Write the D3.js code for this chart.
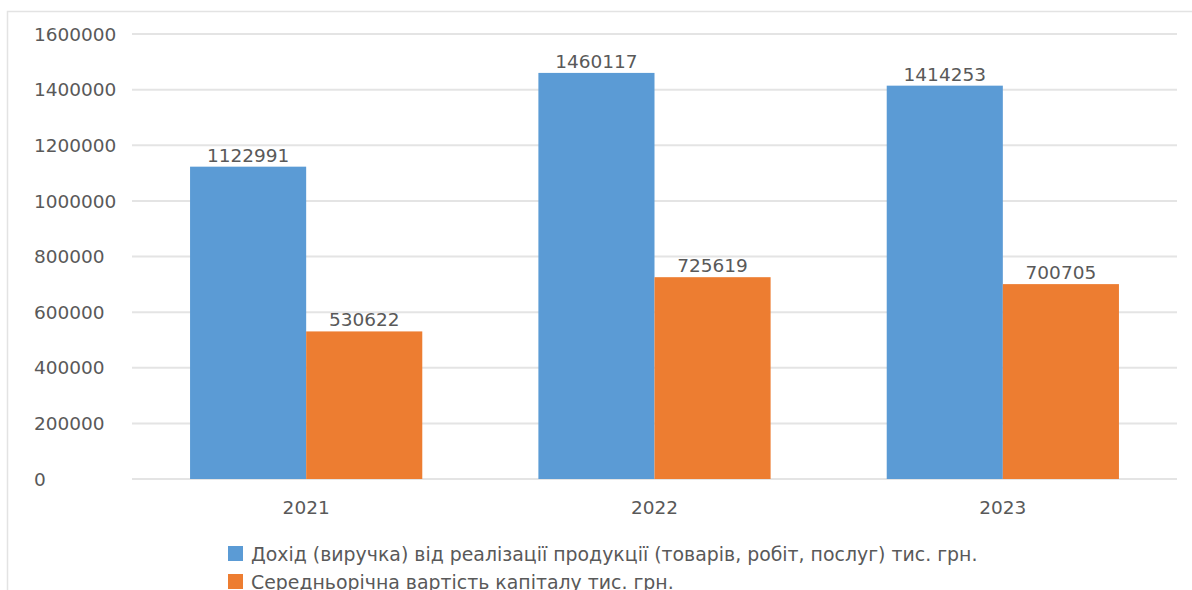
<!DOCTYPE html>
<html>
<head>
<meta charset="utf-8">
<script src="https://cdn.jsdelivr.net/npm/d3@7"></script>
<style>
  body { margin: 0; background: #fff; }
  text { font-family: "DejaVu Sans", sans-serif; fill: #595959; }
</style>
</head>
<body>
<div id="vis"></div>
<script>
// data
var years = ["2021", "2022", "2023"];
var seriesNames = [
    "Дохід (виручка) від реалізації продукції (товарів, робіт, послуг) тис. грн.",
    "Середньорічна вартість капіталу тис. грн."
];
var revenue = [1122991, 1460117, 1414253];
var capital = [530622, 725619, 700705];
var yTicks = [0, 200000, 400000, 600000, 800000, 1000000, 1200000, 1400000, 1600000];
var colors = ["#5B9BD5", "#ED7D31"];

var width = 1192;
var height = 590;

var margin = { top: 34, left: 132, right: 15, bottom: 111 };

var fontSize = "18.5px";

var svg = d3.select("#vis")
    .append("svg")
    .attr("width", width)
    .attr("height", height);

// chart border (partly outside the picture)
svg.append("rect")
    .attr("x", 7.5)
    .attr("y", 11.5)
    .attr("width", width + 20)
    .attr("height", height + 20)
    .attr("fill", "none")
    .attr("stroke", "#e3e3e3")
    .attr("stroke-width", 1.5);

var w = width - margin.left - margin.right;
var h = height - margin.top - margin.bottom;

var g = svg.append("g")
    .attr("transform", "translate(" + margin.left + "," + margin.top + ")");

var yscale = d3.scaleLinear()
    .range([h, 0])
    .domain([0, 1600000]);

var xscale = d3.scaleBand()
    .range([0, w])
    .domain(years)
    .paddingInner(1 / 3)
    .paddingOuter(1 / 6);

var xsub = d3.scaleBand()
    .domain([0, 1])
    .range([0, xscale.bandwidth()]);

// gridlines
g.selectAll(".grid")
    .data(yTicks)
    .enter()
    .append("line")
    .attr("class", "grid")
    .attr("x1", 0)
    .attr("x2", w)
    .attr("y1", function(d) { return yscale(d); })
    .attr("y2", function(d) { return yscale(d); })
    .attr("stroke", "#e4e4e4")
    .attr("stroke-width", 2);

// y labels, left aligned
g.selectAll(".ylab")
    .data(yTicks)
    .enter()
    .append("text")
    .attr("class", "ylab")
    .attr("x", 34 - margin.left)
    .attr("y", function(d) { return yscale(d); })
    .attr("dy", "0.36em")
    .style("font-size", fontSize)
    .text(function(d) { return d; });

var data = years.map(function(y, i) {
    return { year: y, values: [revenue[i], capital[i]] };
});

var groups = g.selectAll(".grp")
    .data(data)
    .enter()
    .append("g")
    .attr("class", "grp")
    .attr("transform", function(d) { return "translate(" + xscale(d.year) + ",0)"; });

groups.selectAll("rect")
    .data(function(d) { return d.values; })
    .enter()
    .append("rect")
    .attr("x", function(d, i) { return xsub(i); })
    .attr("width", xsub.bandwidth())
    .attr("y", function(d) { return yscale(d); })
    .attr("height", function(d) { return h - yscale(d); })
    .attr("fill", function(d, i) { return colors[i]; });

groups.selectAll(".label")
    .data(function(d) { return d.values; })
    .enter()
    .append("text")
    .attr("class", "label")
    .attr("text-anchor", "middle")
    .attr("x", function(d, i) { return xsub(i) + xsub.bandwidth() / 2; })
    .attr("y", function(d) { return yscale(d) - 5; })
    .style("font-size", fontSize)
    .text(function(d) { return d; });

// x labels
g.selectAll(".xlab")
    .data(years)
    .enter()
    .append("text")
    .attr("class", "xlab")
    .attr("text-anchor", "middle")
    .attr("x", function(d) { return xscale(d) + xscale.bandwidth() / 2; })
    .attr("y", h + 28)
    .attr("dy", "0.36em")
    .style("font-size", fontSize)
    .text(function(d) { return d; });

// legend
var legend = svg.selectAll(".legend")
    .data(seriesNames)
    .enter()
    .append("g")
    .attr("class", "legend")
    .attr("transform", function(d, i) { return "translate(228," + (554 + i * 28) + ")"; });

legend.append("rect")
    .attr("x", 0)
    .attr("y", -8)
    .attr("width", 15)
    .attr("height", 15)
    .attr("fill", function(d, i) { return colors[i]; });

legend.append("text")
    .attr("x", 23)
    .attr("y", 0)
    .attr("dy", "0.36em")
    .style("font-size", "18.9px")
    .text(function(d) { return d; });
</script>
</body>
</html>
